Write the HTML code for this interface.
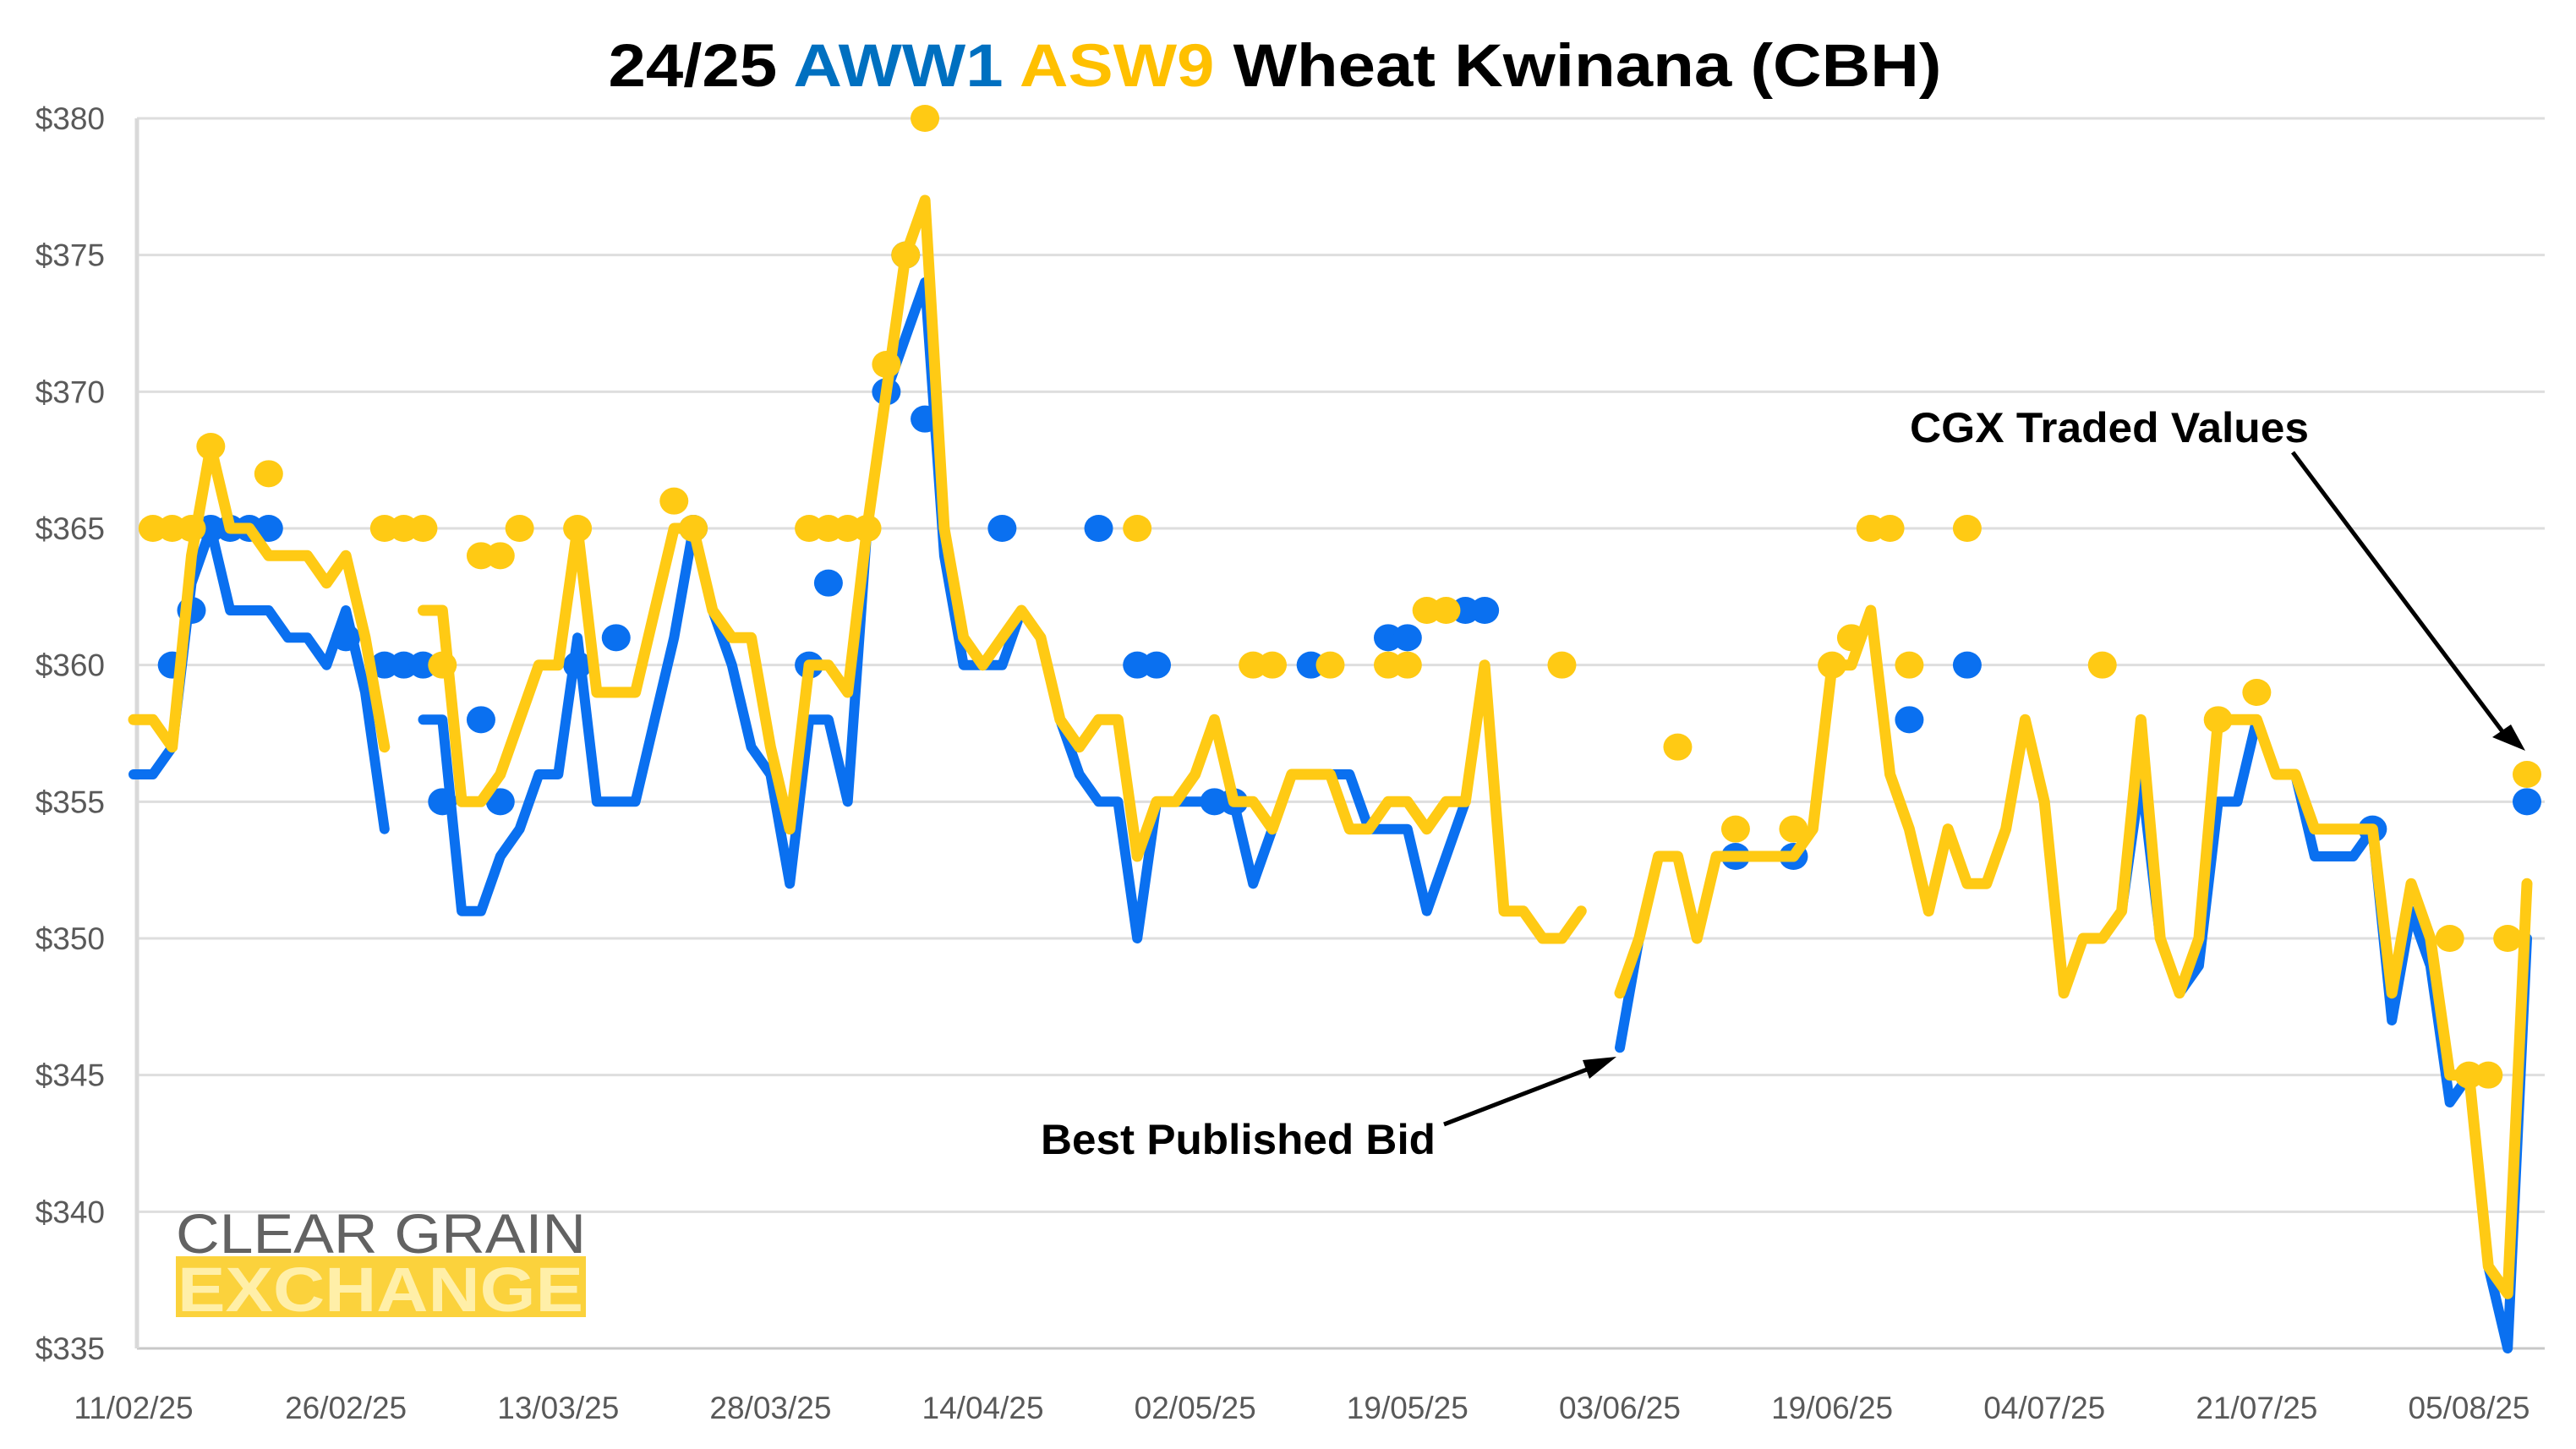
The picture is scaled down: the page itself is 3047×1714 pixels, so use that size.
<!DOCTYPE html>
<html><head><meta charset="utf-8"><title>24/25 AWW1 ASW9 Wheat Kwinana (CBH)</title>
<style>html,body{margin:0;padding:0;background:#fff;}svg{display:block;font-family:"Liberation Sans",Arial,sans-serif;}</style>
</head><body>
<svg id="chart" width="3047" height="1714" viewBox="0 0 3047 1714" xmlns="http://www.w3.org/2000/svg">
<rect x="0" y="0" width="3047" height="1714" fill="#fff"/>
<text x="1508" y="102" text-anchor="middle" font-size="71" font-weight="bold" textLength="1577" lengthAdjust="spacingAndGlyphs"><tspan fill="#000">24/25  </tspan><tspan fill="#0070C0">AWW1 </tspan><tspan fill="#FFC000">ASW9 </tspan><tspan fill="#000">Wheat Kwinana (CBH)</tspan></text>
<g id="grid"></g>
<g id="yticks"></g>
<g id="xticks"></g>
<g id="logo">
  <text x="208" y="1482" font-size="66" fill="#626262" textLength="485" lengthAdjust="spacingAndGlyphs">CLEAR GRAIN</text>
  <rect x="208" y="1486" width="485" height="72" fill="#FBD23C"/>
  <text x="210" y="1551" font-size="74" font-weight="bold" fill="#FFEFA8" textLength="480" lengthAdjust="spacingAndGlyphs">EXCHANGE</text>
</g>
<g id="series"></g>
<g id="annotations">
  <text x="2259" y="523" font-size="50" font-weight="bold" fill="#000" textLength="472" lengthAdjust="spacingAndGlyphs">CGX Traded Values</text>
  <line x1="2712" y1="535" x2="2962" y2="868" stroke="#000" stroke-width="5"/>
  <polygon points="2987,888 2948,872 2970,857" fill="#000"/>
  <text x="1231" y="1365" font-size="50" font-weight="bold" fill="#000" textLength="467" lengthAdjust="spacingAndGlyphs">Best Published Bid</text>
  <line x1="1708" y1="1330" x2="1885" y2="1262" stroke="#000" stroke-width="5"/>
  <polygon points="1912,1250 1880,1276 1872,1254" fill="#000"/>
</g>
</svg>
<script>
const yTicks = [380,375,370,365,360,355,350,345,340,335];
const xTickLabels = ["11/02/25","26/02/25","13/03/25","28/03/25","14/04/25","02/05/25","19/05/25","03/06/25","19/06/25","04/07/25","21/07/25","05/08/25"];
const xTickEvery = 11;
const aww1Bid = [356,356,357,363,365,362,362,362,361,361,360,362,359,354,null,358,358,351,351,353,
354,356,356,361,355,355,355,358,361,365,362,360,357,356,352,358,358,355,365,370,
372,374,364,360,360,360,362,361,358,356,355,355,350,355,355,355,355,355,352,354,
356,356,356,356,354,354,354,351,353,355,null,null,null,null,null,null,null,346,350,353,
353,350,353,353,353,353,353,354,360,360,362,356,354,351,354,352,352,354,358,355,
348,350,350,351,356,350,348,349,355,355,358,356,356,353,353,353,354,347,351,349,
344,345,338,335,350];
const asw9Bid = [358,358,357,364,368,365,365,364,364,364,363,364,361,357,null,362,362,355,355,356,
358,360,360,365,359,359,359,362,365,365,362,361,361,357,354,360,360,359,365,370,
375,377,365,361,360,361,362,361,358,357,358,358,353,355,355,356,358,355,355,354,
356,356,356,354,354,355,355,354,355,355,360,351,351,350,350,351,null,348,350,353,
353,350,353,353,353,353,353,354,360,360,362,356,354,351,354,352,352,354,358,355,
348,350,350,351,358,350,348,350,358,358,358,356,356,354,354,354,354,348,352,350,
345,345,338,337,352];
const aww1TradeIdx = [2,3,4,5,6,7,11,13,14,15,16,18,19,23,25,29,35,36,39,40,41,45,50,52,53,56,57,61,65,66,69,70,83,86,92,95,116,124];
const aww1TradeVal = [360,362,365,365,365,365,361,360,360,360,355,358,355,360,361,365,360,363,370,375,369,365,365,360,360,355,355,360,361,361,362,362,353,353,358,360,354,355];
const asw9TradeIdx = [1,2,3,4,7,13,14,15,16,18,19,20,23,28,29,35,36,37,38,39,40,41,52,58,59,62,65,66,67,68,74,80,83,86,88,89,90,91,92,95,102,108,110,120,121,122,123,124];
const asw9TradeVal = [365,365,365,368,367,365,365,365,360,364,364,365,365,366,365,365,365,365,365,371,375,380,365,360,360,360,360,360,362,362,360,357,354,354,360,361,365,365,360,365,360,358,359,350,345,345,350,356];

const NS = "http://www.w3.org/2000/svg";
const X0 = 158, X1 = 2989, PLOT_RIGHT = 3010, AXIS_X = 162;
const Y_TOP_VAL = 380, Y_BOT_VAL = 335, Y_TOP = 140, Y_BOT = 1595;
const N = aww1Bid.length;
function xScale(i){ return X0 + i * (X1 - X0) / (N - 1); }
function yScale(v){ return Y_TOP + (Y_TOP_VAL - v) * (Y_BOT - Y_TOP) / (Y_TOP_VAL - Y_BOT_VAL); }
function mk(tag, attrs){ const e = document.createElementNS(NS, tag); for (const k in attrs) e.setAttribute(k, attrs[k]); return e; }

const grid = document.getElementById('grid');
const yt = document.getElementById('yticks');
yTicks.forEach(v => {
  const ln = mk('line', {x1: AXIS_X, x2: PLOT_RIGHT, y1: yScale(v), y2: yScale(v), stroke: v === Y_BOT_VAL ? '#c8c8c8' : '#dedede', 'stroke-width': 3});
  
  
  grid.appendChild(ln);
  const t = mk('text', {x: 124, y: yScale(v) + 13, 'text-anchor': 'end', 'font-size': 37, fill: '#595959'});
  t.textContent = '$' + v;
  
  
  yt.appendChild(t);
});
const ax = mk('line', {x1: AXIS_X, x2: AXIS_X, y1: Y_TOP, y2: Y_BOT, stroke: '#d9d9d9', 'stroke-width': 5});


grid.appendChild(ax);

const xt = document.getElementById('xticks');
xTickLabels.forEach((lab, k) => {
  const t = mk('text', {x: xScale(k * xTickEvery), y: 1678, 'text-anchor': 'middle', 'font-size': 37, fill: '#595959'});
  t.textContent = lab;
  
  
  xt.appendChild(t);
});

const series = document.getElementById('series');
function drawLine(vals, color, width, name){
  let d = '', pen = false;
  vals.forEach((v, i) => {
    if (v === null) { pen = false; return; }
    d += (pen ? 'L' : 'M') + xScale(i).toFixed(1) + ',' + yScale(v).toFixed(1);
    pen = true;
  });
  const p = mk('path', {d: d, fill: 'none', stroke: color, 'stroke-width': width, 'stroke-linejoin': 'round', 'stroke-linecap': 'round'});
  
  
  series.appendChild(p);
}
function drawDots(idx, vals, color, name){
  idx.forEach((i, k) => {
    const c = mk('ellipse', {cx: xScale(i), cy: yScale(vals[k]), rx: 17, ry: 16, fill: color});
    
    
    series.appendChild(c);
  });
}
drawLine(aww1Bid, '#0A70F0', 12, 'aww1-best-bid-line');
drawDots(aww1TradeIdx, aww1TradeVal, '#0A70F0', 'aww1-cgx-trade-point');
drawLine(asw9Bid, '#FFCA14', 13, 'asw9-best-bid-line');
drawDots(asw9TradeIdx, asw9TradeVal, '#FFCA14', 'asw9-cgx-trade-point');
</script>
</body></html>
